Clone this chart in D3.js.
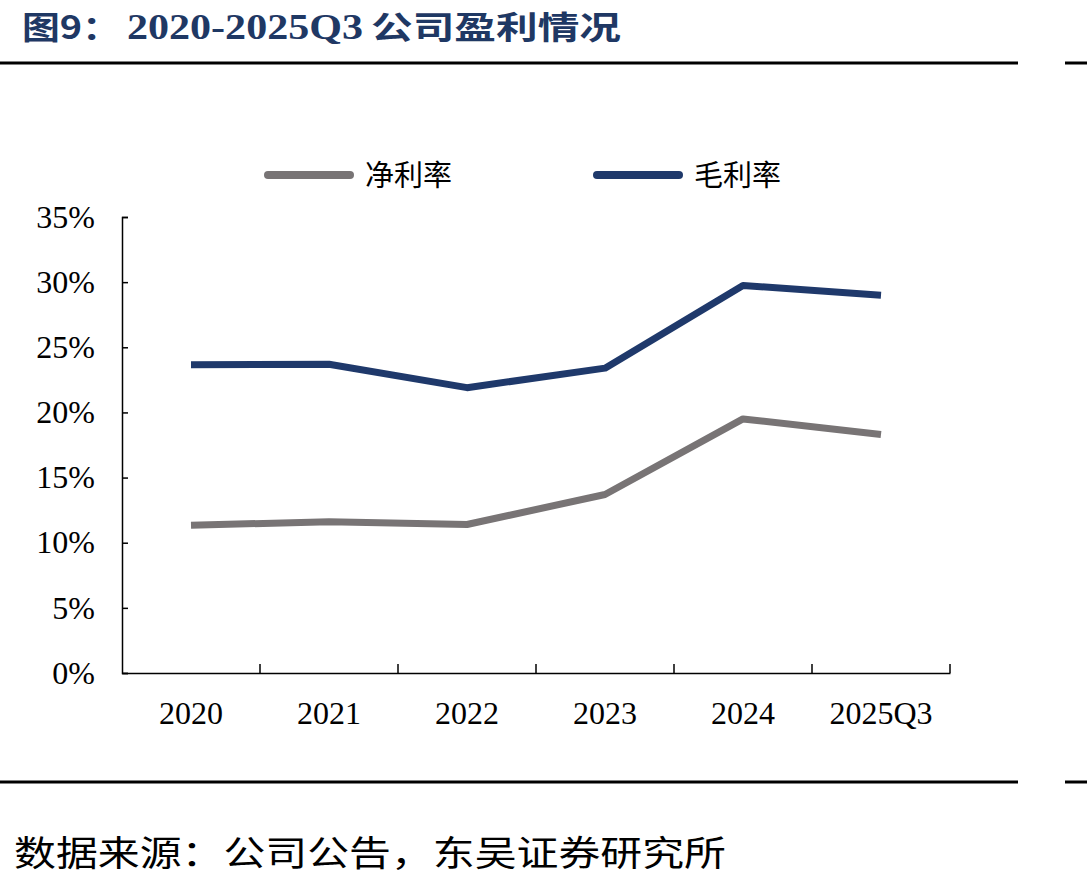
<!DOCTYPE html>
<html>
<head>
<meta charset="utf-8">
<script src="https://cdn.jsdelivr.net/npm/d3@7"></script>
<style>
  body { margin: 0; background: #fff; }
  svg { display: block; }
</style>
</head>
<body>
<div id="chart"></div>
<script>
// data
var years = ["2020", "2021", "2022", "2023", "2024", "2025Q3"];
var netMargin = [11.35, 11.6, 11.4, 13.7, 19.5, 18.3];
var grossMargin = [23.65, 23.7, 21.9, 23.4, 29.75, 29.0];
var yTicks = [0, 5, 10, 15, 20, 25, 30, 35];

var W = 1087, H = 885;
var serif = "'Liberation Serif', 'Times New Roman', serif";
var cjkFont = "'Noto Sans CJK SC', sans-serif";

var svg = d3.select("#chart").append("svg")
    .attr("width", W)
    .attr("height", H);

// title, pieces stretched to the widths seen in the picture
var titleParts = [
    { text: "图9：", x: 22, w: 98, font: cjkFont, size: 32 },
    { text: "2020-2025Q3", x: 127, w: 236, font: serif, size: 35 },
    { text: "公司盈利情况", x: 371, w: 250, font: cjkFont, size: 32 }
];
titleParts.forEach(function (p) {
    svg.append("text")
        .attr("x", p.x)
        .attr("y", 39)
        .attr("font-family", p.font)
        .attr("font-weight", "bold")
        .attr("font-size", p.size)
        .attr("fill", "#1f3864")
        .attr("textLength", p.w)
        .attr("lengthAdjust", "spacingAndGlyphs")
        .text(p.text);
});

// rules top and bottom
[63, 782].forEach(function (y) {
    svg.append("line").attr("x1", 0).attr("x2", 1018).attr("y1", y).attr("y2", y)
        .attr("stroke", "#000").attr("stroke-width", 3);
    svg.append("line").attr("x1", 1065).attr("x2", 1087).attr("y1", y).attr("y2", y)
        .attr("stroke", "#000").attr("stroke-width", 3);
});

// footer
svg.append("text")
    .attr("x", 14)
    .attr("y", 866)
    .attr("font-family", cjkFont)
    .attr("font-size", 35)
    .attr("fill", "#000")
    .attr("textLength", 712)
    .attr("lengthAdjust", "spacingAndGlyphs")
    .text("数据来源：公司公告，东吴证券研究所");

var margin = { left: 122, top: 217, right: 950, bottom: 673 };

var xScale = d3.scaleBand()
    .domain(years)
    .range([margin.left, margin.right]);

var yScale = d3.scaleLinear()
    .domain([0, 35])
    .range([margin.bottom, margin.top]);

// y axis with inward ticks
var yAxis = svg.append("g")
    .attr("transform", "translate(" + margin.left + ",0)")
    .call(d3.axisRight(yScale).tickValues(yTicks).tickSize(6).tickFormat(function (d) { return d + "%"; }));
yAxis.select(".domain").attr("stroke", "#000").attr("stroke-width", 1.5);
yAxis.selectAll(".tick line").attr("stroke", "#000").attr("stroke-width", 1.5);
yAxis.selectAll(".tick text")
    .attr("x", -27)
    .attr("text-anchor", "end")
    .attr("font-family", serif)
    .attr("font-size", 32)
    .attr("fill", "#000");

// x axis, ticks at band boundaries pointing up
var xAxis = svg.append("g")
    .attr("transform", "translate(0," + margin.bottom + ")")
    .call(d3.axisBottom(xScale).tickSize(0).tickPadding(28));
xAxis.select(".domain").attr("stroke", "#000").attr("stroke-width", 1.5);
xAxis.selectAll(".tick text")
    .attr("dy", "0.71em")
    .attr("font-family", serif)
    .attr("font-size", 32)
    .attr("fill", "#000");
xAxis.selectAll(".bound")
    .data(years)
    .enter()
    .append("line")
    .attr("x1", function (d) { return xScale(d) + xScale.bandwidth(); })
    .attr("x2", function (d) { return xScale(d) + xScale.bandwidth(); })
    .attr("y1", 0)
    .attr("y2", -9)
    .attr("stroke", "#000")
    .attr("stroke-width", 1.5);

var line = d3.line()
    .x(function (d, i) { return xScale(years[i]) + xScale.bandwidth() / 2; })
    .y(function (d) { return yScale(d); });

var series = [
    { name: "净利率", values: netMargin, color: "#787475" },
    { name: "毛利率", values: grossMargin, color: "#1f396b" }
];

series.forEach(function (s) {
    svg.append("path")
        .datum(s.values)
        .attr("d", line)
        .attr("fill", "none")
        .attr("stroke", s.color)
        .attr("stroke-width", 7)
        .attr("stroke-linejoin", "round");
});

// legend
var legendX = [268, 597];
series.forEach(function (s, i) {
    var g = svg.append("g").attr("transform", "translate(" + legendX[i] + ",175)");
    g.append("line")
        .attr("x1", 0).attr("x2", 82)
        .attr("y1", 0).attr("y2", 0)
        .attr("stroke", s.color)
        .attr("stroke-width", 8)
        .attr("stroke-linecap", "round");
    g.append("text")
        .attr("x", 97)
        .attr("y", 11)
        .attr("font-family", cjkFont)
        .attr("font-size", 29)
        .attr("fill", "#000")
        .text(s.name);
});
</script>
</body>
</html>
